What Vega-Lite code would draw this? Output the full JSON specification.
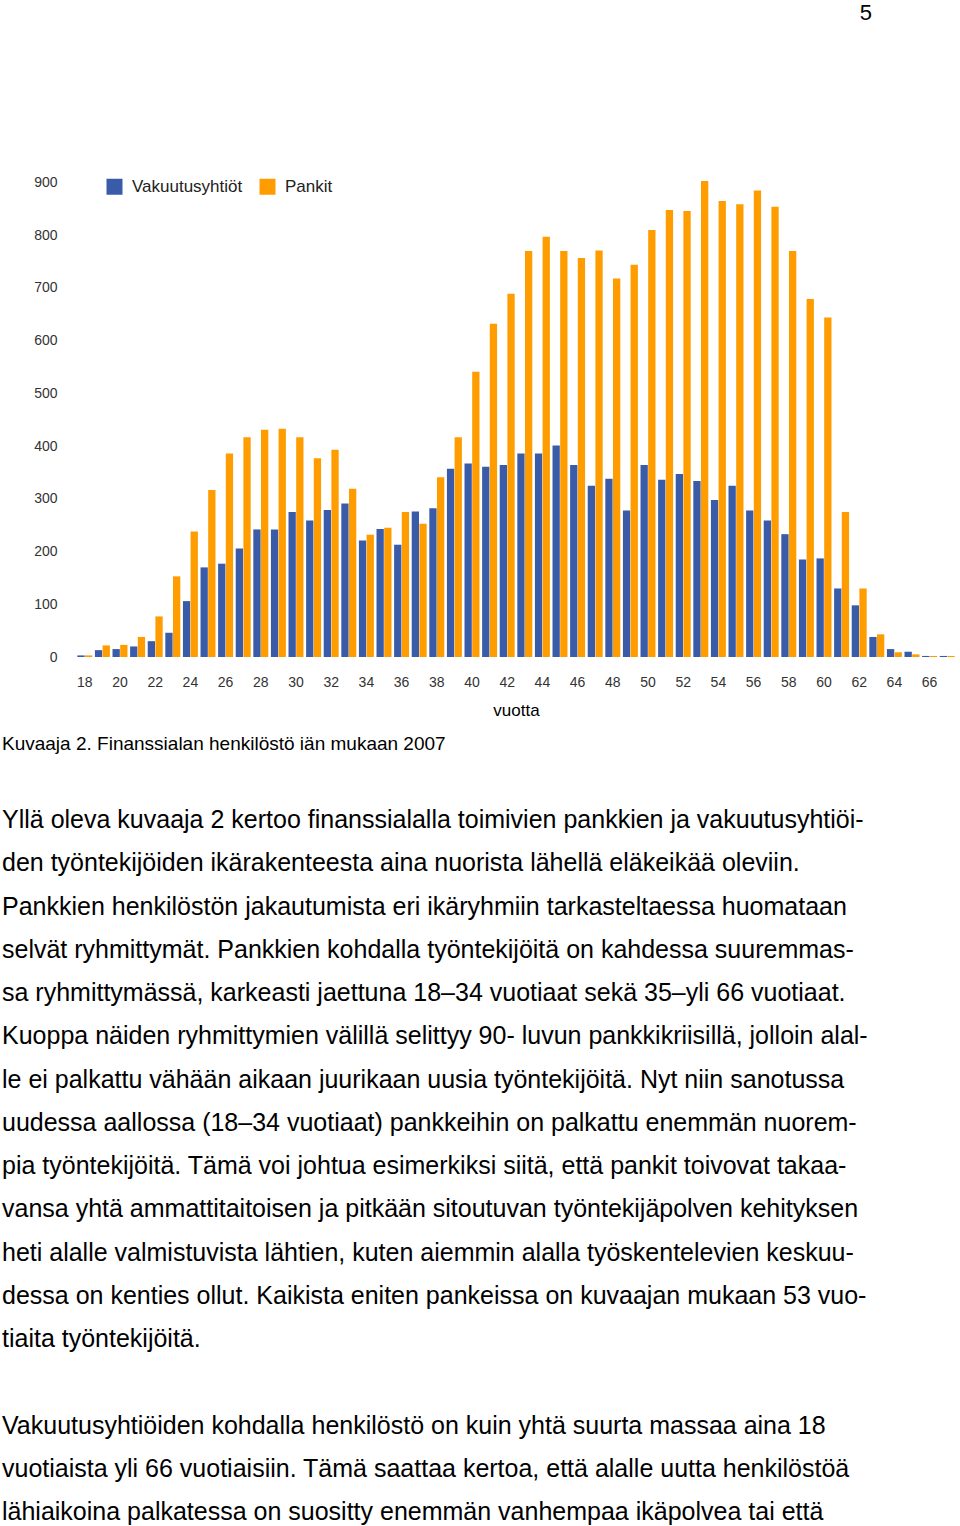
{
  "$schema": "https://vega.github.io/schema/vega-lite/v6.json",
  "background": "white",
  "padding": {"left": 2, "top": 2, "right": 0, "bottom": 0},
  "config": {"font": "Liberation Sans", "view": {"stroke": null}},
  "title": {"text": "5", "anchor": "end", "fontSize": 22, "fontWeight": "normal", "color": "#000", "dx": -84, "offset": 147},
  "spacing": 54,
  "vconcat": [
    {
      "width": 954,
      "height": 485,
      "data": {"values": [
        {"age": 18, "series": "Vakuutusyhtiöt", "value": 3}, {"age": 18, "series": "Pankit", "value": 3},
        {"age": 19, "series": "Vakuutusyhtiöt", "value": 13}, {"age": 19, "series": "Pankit", "value": 22},
        {"age": 20, "series": "Vakuutusyhtiöt", "value": 15}, {"age": 20, "series": "Pankit", "value": 23},
        {"age": 21, "series": "Vakuutusyhtiöt", "value": 20}, {"age": 21, "series": "Pankit", "value": 38},
        {"age": 22, "series": "Vakuutusyhtiöt", "value": 30}, {"age": 22, "series": "Pankit", "value": 77},
        {"age": 23, "series": "Vakuutusyhtiöt", "value": 46}, {"age": 23, "series": "Pankit", "value": 153},
        {"age": 24, "series": "Vakuutusyhtiöt", "value": 106}, {"age": 24, "series": "Pankit", "value": 238},
        {"age": 25, "series": "Vakuutusyhtiöt", "value": 170}, {"age": 25, "series": "Pankit", "value": 317},
        {"age": 26, "series": "Vakuutusyhtiöt", "value": 177}, {"age": 26, "series": "Pankit", "value": 386},
        {"age": 27, "series": "Vakuutusyhtiöt", "value": 206}, {"age": 27, "series": "Pankit", "value": 417},
        {"age": 28, "series": "Vakuutusyhtiöt", "value": 242}, {"age": 28, "series": "Pankit", "value": 431},
        {"age": 29, "series": "Vakuutusyhtiöt", "value": 242}, {"age": 29, "series": "Pankit", "value": 433},
        {"age": 30, "series": "Vakuutusyhtiöt", "value": 275}, {"age": 30, "series": "Pankit", "value": 417},
        {"age": 31, "series": "Vakuutusyhtiöt", "value": 259}, {"age": 31, "series": "Pankit", "value": 377},
        {"age": 32, "series": "Vakuutusyhtiöt", "value": 279}, {"age": 32, "series": "Pankit", "value": 393},
        {"age": 33, "series": "Vakuutusyhtiöt", "value": 291}, {"age": 33, "series": "Pankit", "value": 319},
        {"age": 34, "series": "Vakuutusyhtiöt", "value": 221}, {"age": 34, "series": "Pankit", "value": 232},
        {"age": 35, "series": "Vakuutusyhtiöt", "value": 243}, {"age": 35, "series": "Pankit", "value": 245},
        {"age": 36, "series": "Vakuutusyhtiöt", "value": 213}, {"age": 36, "series": "Pankit", "value": 275},
        {"age": 37, "series": "Vakuutusyhtiöt", "value": 276}, {"age": 37, "series": "Pankit", "value": 253},
        {"age": 38, "series": "Vakuutusyhtiöt", "value": 282}, {"age": 38, "series": "Pankit", "value": 341},
        {"age": 39, "series": "Vakuutusyhtiöt", "value": 357}, {"age": 39, "series": "Pankit", "value": 417},
        {"age": 40, "series": "Vakuutusyhtiöt", "value": 367}, {"age": 40, "series": "Pankit", "value": 541},
        {"age": 41, "series": "Vakuutusyhtiöt", "value": 361}, {"age": 41, "series": "Pankit", "value": 632},
        {"age": 42, "series": "Vakuutusyhtiöt", "value": 364}, {"age": 42, "series": "Pankit", "value": 689},
        {"age": 43, "series": "Vakuutusyhtiöt", "value": 386}, {"age": 43, "series": "Pankit", "value": 770},
        {"age": 44, "series": "Vakuutusyhtiöt", "value": 386}, {"age": 44, "series": "Pankit", "value": 797},
        {"age": 45, "series": "Vakuutusyhtiöt", "value": 401}, {"age": 45, "series": "Pankit", "value": 770},
        {"age": 46, "series": "Vakuutusyhtiöt", "value": 364}, {"age": 46, "series": "Pankit", "value": 757},
        {"age": 47, "series": "Vakuutusyhtiöt", "value": 325}, {"age": 47, "series": "Pankit", "value": 771},
        {"age": 48, "series": "Vakuutusyhtiöt", "value": 338}, {"age": 48, "series": "Pankit", "value": 718},
        {"age": 49, "series": "Vakuutusyhtiöt", "value": 278}, {"age": 49, "series": "Pankit", "value": 744},
        {"age": 50, "series": "Vakuutusyhtiöt", "value": 364}, {"age": 50, "series": "Pankit", "value": 810},
        {"age": 51, "series": "Vakuutusyhtiöt", "value": 336}, {"age": 51, "series": "Pankit", "value": 848},
        {"age": 52, "series": "Vakuutusyhtiöt", "value": 347}, {"age": 52, "series": "Pankit", "value": 846},
        {"age": 53, "series": "Vakuutusyhtiöt", "value": 334}, {"age": 53, "series": "Pankit", "value": 903},
        {"age": 54, "series": "Vakuutusyhtiöt", "value": 298}, {"age": 54, "series": "Pankit", "value": 865},
        {"age": 55, "series": "Vakuutusyhtiöt", "value": 325}, {"age": 55, "series": "Pankit", "value": 859},
        {"age": 56, "series": "Vakuutusyhtiöt", "value": 278}, {"age": 56, "series": "Pankit", "value": 885},
        {"age": 57, "series": "Vakuutusyhtiöt", "value": 259}, {"age": 57, "series": "Pankit", "value": 854},
        {"age": 58, "series": "Vakuutusyhtiöt", "value": 233}, {"age": 58, "series": "Pankit", "value": 770},
        {"age": 59, "series": "Vakuutusyhtiöt", "value": 185}, {"age": 59, "series": "Pankit", "value": 679},
        {"age": 60, "series": "Vakuutusyhtiöt", "value": 187}, {"age": 60, "series": "Pankit", "value": 644},
        {"age": 61, "series": "Vakuutusyhtiöt", "value": 130}, {"age": 61, "series": "Pankit", "value": 275},
        {"age": 62, "series": "Vakuutusyhtiöt", "value": 98}, {"age": 62, "series": "Pankit", "value": 130},
        {"age": 63, "series": "Vakuutusyhtiöt", "value": 38}, {"age": 63, "series": "Pankit", "value": 43},
        {"age": 64, "series": "Vakuutusyhtiöt", "value": 15}, {"age": 64, "series": "Pankit", "value": 9},
        {"age": 65, "series": "Vakuutusyhtiöt", "value": 10}, {"age": 65, "series": "Pankit", "value": 5},
        {"age": 66, "series": "Vakuutusyhtiöt", "value": 2}, {"age": 66, "series": "Pankit", "value": 2},
        {"age": 67, "series": "Vakuutusyhtiöt", "value": 2}, {"age": 67, "series": "Pankit", "value": 2}
      ]},
      "title": {"text": "Kuvaaja 2. Finanssialan henkilöstö iän mukaan 2007", "orient": "bottom", "anchor": "start", "fontSize": 19, "fontWeight": "normal", "color": "#000", "offset": 17},
      "mark": {"type": "bar"},
      "encoding": {
        "x": {"field": "age", "type": "ordinal", "scale": {"range": [74, 954], "paddingInner": 0.15, "paddingOuter": 0.075},
          "axis": {"values": [18,20,22,24,26,28,30,32,34,36,38,40,42,44,46,48,50,52,54,56,58,60,62,64,66], "labelAngle": 0, "labelFontSize": 14, "labelColor": "#333", "labelPadding": 18, "domain": false, "ticks": false, "grid": false, "title": "vuotta", "titleFontSize": 17, "titleFontWeight": "normal", "titleColor": "#000", "titlePadding": 13}},
        "xOffset": {"field": "series", "sort": ["Vakuutusyhtiöt", "Pankit"], "scale": {"paddingInner": 0.05}},
        "y": {"field": "value", "type": "quantitative", "scale": {"domain": [0, 920], "nice": false},
          "axis": {"values": [0,100,200,300,400,500,600,700,800,900], "offset": -74, "labelFontSize": 14, "labelColor": "#333", "labelPadding": 19, "domain": false, "ticks": false, "grid": false, "title": null}},
        "color": {"field": "series", "type": "nominal", "sort": ["Vakuutusyhtiöt", "Pankit"], "scale": {"range": ["#3a5ba8", "#ff9c00"]},
          "legend": {"orient": "none", "legendX": 104, "legendY": 6, "direction": "horizontal", "title": null, "symbolType": "square", "symbolSize": 256, "symbolStrokeWidth": 0, "symbolOpacity": 1, "labelFontSize": 17, "labelColor": "#222", "labelOffset": 9, "columnPadding": 16}}
      }
    },
    {
      "width": 954,
      "height": 692,
      "data": {"values": [
        {"line": 0, "text": "Yllä oleva kuvaaja 2 kertoo finanssialalla toimivien pankkien ja vakuutusyhtiöi-"},
        {"line": 1, "text": "den työntekijöiden ikärakenteesta aina nuorista lähellä eläkeikää oleviin."},
        {"line": 2, "text": "Pankkien henkilöstön jakautumista eri ikäryhmiin tarkasteltaessa huomataan"},
        {"line": 3, "text": "selvät ryhmittymät. Pankkien kohdalla työntekijöitä on kahdessa suuremmas-"},
        {"line": 4, "text": "sa ryhmittymässä, karkeasti jaettuna 18–34 vuotiaat sekä 35–yli 66 vuotiaat."},
        {"line": 5, "text": "Kuoppa näiden ryhmittymien välillä selittyy 90- luvun pankkikriisillä, jolloin alal-"},
        {"line": 6, "text": "le ei palkattu vähään aikaan juurikaan uusia työntekijöitä. Nyt niin sanotussa"},
        {"line": 7, "text": "uudessa aallossa (18–34 vuotiaat) pankkeihin on palkattu enemmän nuorem-"},
        {"line": 8, "text": "pia työntekijöitä. Tämä voi johtua esimerkiksi siitä, että pankit toivovat takaa-"},
        {"line": 9, "text": "vansa yhtä ammattitaitoisen ja pitkään sitoutuvan työntekijäpolven kehityksen"},
        {"line": 10, "text": "heti alalle valmistuvista lähtien, kuten aiemmin alalla työskentelevien keskuu-"},
        {"line": 11, "text": "dessa on kenties ollut. Kaikista eniten pankeissa on kuvaajan mukaan 53 vuo-"},
        {"line": 12, "text": "tiaita työntekijöitä."},
        {"line": 14, "text": "Vakuutusyhtiöiden kohdalla henkilöstö on kuin yhtä suurta massaa aina 18"},
        {"line": 15, "text": "vuotiaista yli 66 vuotiaisiin. Tämä saattaa kertoa, että alalle uutta henkilöstöä"},
        {"line": 16, "text": "lähiaikoina palkatessa on suositty enemmän vanhempaa ikäpolvea tai että"}
      ]},
      "mark": {"type": "text", "align": "left", "baseline": "middle", "fontSize": 25, "color": "#000"},
      "encoding": {
        "y": {"field": "line", "type": "quantitative", "scale": {"domain": [0, 16], "reverse": true, "nice": false}, "axis": null},
        "x": {"datum": 0, "type": "quantitative", "scale": {"domain": [0, 1]}, "axis": null},
        "text": {"field": "text"}
      }
    }
  ]
}
